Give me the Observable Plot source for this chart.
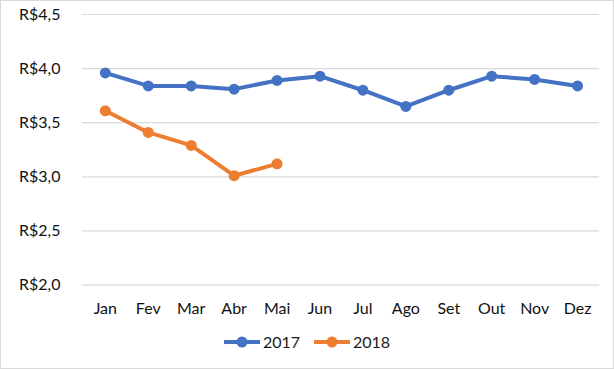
<!DOCTYPE html>
<html>
<head>
<meta charset="utf-8">
<script src="https://cdn.jsdelivr.net/npm/d3@7"></script>
<script src="https://cdn.jsdelivr.net/npm/@observablehq/plot@0.6"></script>
<style>
  html, body { margin: 0; padding: 0; background: #fff; }
  #wrap { position: relative; width: 614px; height: 369px; box-sizing: border-box; border: 1px solid #d9d9d9; overflow: hidden; font-family: Lato, "Open Sans", sans-serif; }
  #chart { position: absolute; left: -1px; top: -1px; }
  #legend { position: absolute; left: 0; top: 331px; width: 612px; display: flex; justify-content: center; gap: 14px; font-size: 16px; color: #1a1a1a; }
  .item { display: flex; align-items: center; gap: 3px; }
</style>
</head>
<body>
<div id="wrap">
  <div id="chart"></div>
  <div id="legend"></div>
</div>
<script>
const months = ["Jan","Fev","Mar","Abr","Mai","Jun","Jul","Ago","Set","Out","Nov","Dez"];
const series = ["2017", "2018"];
const colors = ["#4472C4", "#ED7D31"];
const values2017 = [3.96, 3.84, 3.84, 3.81, 3.89, 3.93, 3.80, 3.65, 3.80, 3.93, 3.90, 3.84];
const values2018 = [3.61, 3.41, 3.29, 3.01, 3.12];
const yTicks = [2.0, 2.5, 3.0, 3.5, 4.0, 4.5];

const data = [
  ...values2017.map((v, i) => ({month: months[i], value: v, year: "2017"})),
  ...values2018.map((v, i) => ({month: months[i], value: v, year: "2018"}))
];

const fmt = v => "R$" + v.toFixed(1).replace(".", ",");

const chart = Plot.plot({
  width: 614,
  height: 325,
  marginLeft: 82,
  marginRight: 14,
  marginTop: 14,
  marginBottom: 40,
  style: {fontFamily: "Lato, 'Open Sans', sans-serif", fontSize: "16px", color: "#111", background: "transparent"},
  x: {type: "point", domain: months, padding: 0.5, label: null},
  y: {domain: [2.0, 4.5], label: null},
  color: {domain: series, range: colors},
  marks: [
    Plot.gridY(yTicks, {stroke: "#d9d9d9", strokeOpacity: 1, strokeWidth: 1.2}),
    Plot.axisY(yTicks, {tickSize: 0, tickPadding: 22, tickFormat: fmt, fontSize: 16, label: null}),
    Plot.axisX(months, {tickSize: 0, tickPadding: 18, fontSize: 16, label: null}),
    Plot.line(data, {x: "month", y: "value", z: "year", stroke: "year", strokeWidth: 4, curve: "linear"}),
    Plot.dot(data, {x: "month", y: "value", fill: "year", r: 5.5})
  ]
});
document.getElementById("chart").appendChild(chart);

const legend = document.getElementById("legend");
series.forEach((s, i) => {
  const item = document.createElement("div");
  item.className = "item";
  item.innerHTML = `<svg width="36" height="14"><line x1="0" y1="7" x2="36" y2="7" stroke="${colors[i]}" stroke-width="4"/><circle cx="18" cy="7" r="5.5" fill="${colors[i]}"/></svg><span>${s}</span>`;
  legend.appendChild(item);
});
</script>
</body>
</html>
